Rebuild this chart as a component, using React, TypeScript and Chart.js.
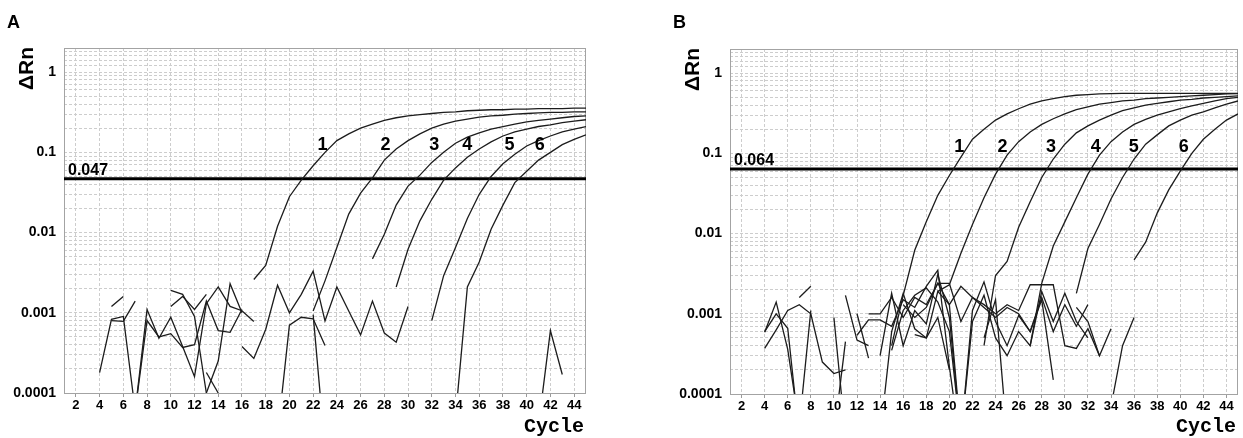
import React, { useEffect, useRef } from 'react';
import { Chart, registerables } from 'chart.js';

Chart.register(...registerables);

// [first cycle, ΔRn values for consecutive cycles]
type Run = [number, number[]];

const X_TICKS = [2, 4, 6, 8, 10, 12, 14, 16, 18, 20, 22, 24, 26, 28, 30, 32, 34, 36, 38, 40, 42, 44];
const Y_DECADES = [0.0001, 0.001, 0.01, 0.1, 1];
const Y_TICK_LABELS = ['0.0001', '0.001', '0.01', '0.1', '1'];
const Y_UPPER_GRID = [1.2, 1.4, 1.6, 1.8, 2];
const CURVE_NAMES = ['1', '2', '3', '4', '5', '6'];
const X_TITLE = 'Cycle';
const Y_TITLE = 'ΔRn';

// ---------- Panel A ----------
const A_THRESHOLD = 0.047;
const A_THRESHOLD_TEXT = '0.047';
const A_AMP_1: Run = [17, [0.0026, 0.0039, 0.012, 0.028, 0.045, 0.068, 0.1, 0.14, 0.17, 0.2, 0.225, 0.25, 0.27, 0.285, 0.295, 0.305, 0.315, 0.32, 0.33, 0.335, 0.34, 0.34, 0.345, 0.345, 0.35, 0.35, 0.35, 0.355, 0.355]];
const A_AMP_2: Run = [22, [0.00105, 0.0025, 0.0065, 0.017, 0.031, 0.048, 0.08, 0.11, 0.14, 0.17, 0.2, 0.225, 0.245, 0.26, 0.275, 0.285, 0.29, 0.3, 0.305, 0.31, 0.315, 0.315, 0.32, 0.32]];
const A_AMP_3: Run = [27, [0.0047, 0.0095, 0.022, 0.038, 0.052, 0.075, 0.1, 0.13, 0.155, 0.175, 0.195, 0.21, 0.225, 0.24, 0.25, 0.26, 0.27, 0.28, 0.285]];
const A_AMP_4: Run = [29, [0.0021, 0.0062, 0.014, 0.026, 0.045, 0.064, 0.087, 0.11, 0.135, 0.16, 0.18, 0.195, 0.21, 0.22, 0.235, 0.245, 0.255]];
const A_AMP_5: Run = [32, [0.0008, 0.0029, 0.0065, 0.015, 0.03, 0.05, 0.072, 0.095, 0.12, 0.14, 0.16, 0.18, 0.195, 0.21]];
const A_AMP_6: Run = [34, [0.00005, 0.0021, 0.0043, 0.011, 0.022, 0.042, 0.058, 0.08, 0.1, 0.125, 0.145, 0.165]];
const A_NOISE_1: Run = [4, [0.00018, 0.00083, 0.0009, 0.00006, 0.0011, 0.00048, 0.00088, 0.00038, 0.00016, 0.0013, 0.0021, 0.0012, 0.00106, 0.00078]];
const A_NOISE_2: Run = [5, [0.0012, 0.0016]];
const A_NOISE_3: Run = [5, [0.0008, 0.00078, 0.0014]];
const A_NOISE_4: Run = [7, [0.00006, 0.0008, 0.0005, 0.00055, 0.00037, 0.0004, 0.0014, 0.0006, 0.00057, 0.0011]];
const A_NOISE_5: Run = [10, [0.0019, 0.0017, 0.0009, 0.0001]];
const A_NOISE_6: Run = [10, [0.0012, 0.0016, 0.0011, 0.0017]];
const A_NOISE_7: Run = [13, [0.00018, 0.0001]];
const A_NOISE_8: Run = [13, [0.0001, 0.00025, 0.0023, 0.001]];
const A_NOISE_9: Run = [16, [0.00038, 0.00027, 0.00062, 0.0022, 0.001, 0.0017, 0.0033, 0.00079, 0.0021, 0.00105, 0.00053, 0.0014, 0.00056, 0.00043, 0.0012]];
const A_NOISE_10: Run = [19, [0.00003, 0.0007, 0.00088, 0.00084, 0.00039]];
const A_NOISE_11: Run = [22, [0.00095, 0.00002]];
const A_NOISE_12: Run = [41, [0.00004, 0.0006, 0.00017]];
const A_LABEL_CYCLES = [22.8, 28.1, 32.2, 35.0, 38.55, 41.1];
const A_LABEL_LEVEL = 0.125;

// ---------- Panel B ----------
const B_THRESHOLD = 0.064;
const B_THRESHOLD_TEXT = '0.064';
const B_AMP_1: Run = [15, [0.0004, 0.0017, 0.0062, 0.014, 0.03, 0.053, 0.09, 0.15, 0.2, 0.26, 0.31, 0.36, 0.41, 0.45, 0.48, 0.51, 0.53, 0.54, 0.55, 0.555, 0.56, 0.56, 0.56, 0.56, 0.56, 0.56, 0.56, 0.56, 0.56, 0.56, 0.56]];
const B_AMP_2: Run = [19, [0.0019, 0.0023, 0.0057, 0.013, 0.028, 0.055, 0.095, 0.14, 0.185, 0.23, 0.27, 0.31, 0.35, 0.38, 0.41, 0.43, 0.45, 0.46, 0.48, 0.49, 0.5, 0.51, 0.52, 0.53, 0.54, 0.55, 0.555]];
const B_AMP_3: Run = [23, [0.0004, 0.003, 0.0045, 0.012, 0.025, 0.05, 0.085, 0.13, 0.18, 0.22, 0.26, 0.3, 0.34, 0.37, 0.4, 0.42, 0.44, 0.46, 0.47, 0.49, 0.5, 0.51, 0.52]];
const B_AMP_4: Run = [27, [0.0004, 0.0024, 0.007, 0.014, 0.028, 0.055, 0.095, 0.14, 0.185, 0.23, 0.265, 0.3, 0.33, 0.36, 0.39, 0.42, 0.45, 0.48, 0.5]];
const B_AMP_5: Run = [31, [0.0018, 0.0065, 0.013, 0.027, 0.05, 0.085, 0.13, 0.17, 0.22, 0.26, 0.3, 0.33, 0.37, 0.41, 0.45]];
const B_AMP_6: Run = [36, [0.0047, 0.0078, 0.018, 0.035, 0.06, 0.1, 0.15, 0.2, 0.26, 0.31]];
const B_NOISE_1: Run = [4, [0.00059, 0.0014, 0.00036, 0.00004]];
const B_NOISE_2: Run = [4, [0.00037, 0.00063, 0.0011, 0.0013, 0.001, 0.00025, 0.00018, 0.0002]];
const B_NOISE_3: Run = [4, [0.0006, 0.001, 0.00066, 0.00003]];
const B_NOISE_4: Run = [7, [0.0016, 0.0022]];
const B_NOISE_5: Run = [7, [0.00004, 0.0011]];
const B_NOISE_6: Run = [10, [0.0009, 0.00003]];
const B_NOISE_7: Run = [10, [0.00003, 0.00045]];
const B_NOISE_8: Run = [11, [0.0017, 0.00047, 0.0004]];
const B_NOISE_9: Run = [12, [0.001, 0.00028]];
const B_NOISE_10: Run = [12, [0.00054, 0.00084, 0.00084, 0.0007, 0.0015, 0.0012, 0.0022, 0.0035, 0.00022, 0.00002]];
const B_NOISE_11: Run = [13, [0.001, 0.001, 0.0016, 0.0009, 0.0016, 0.0013, 0.0024, 0.0024, 0.0008, 0.0016, 0.0013, 0.001, 0.0013, 0.0011, 0.0023, 0.0023, 0.0023, 0.0004, 0.00037, 0.00065, 0.0003, 0.00065]];
const B_NOISE_12: Run = [14, [0.0003, 0.0018, 0.0004, 0.0011, 0.00075, 0.0031, 0.0009, 0.00003]];
const B_NOISE_13: Run = [14, [0.00003, 0.0006, 0.0018, 0.00065, 0.0005, 0.0019, 0.0013, 0.00003, 0.0011, 0.0025, 0.0008, 0.0004, 0.00095, 0.0006, 0.0016, 0.0006, 0.0013, 0.0007, 0.0013]];
const B_NOISE_14: Run = [15, [0.00035, 0.0011, 0.0017, 0.0021, 0.0014, 0.0006, 0.00003, 0.0008, 0.0017, 0.0005, 0.0003, 0.0006, 0.0004, 0.0019, 0.0008, 0.0018, 0.0008, 0.0005]];
const B_NOISE_15: Run = [16, [0.0013, 0.0009, 0.0012, 0.0024, 0.0013, 0.0022, 0.0016, 0.0012, 0.0009, 0.0012, 0.001, 0.0006, 0.0015, 0.00015]];
const B_NOISE_16: Run = [17, [0.00055, 0.0005, 0.0009, 0.0002]];
const B_NOISE_17: Run = [23, [0.0005, 0.0015, 0.00003]];
const B_NOISE_18: Run = [31, [0.0012, 0.0008, 0.0003]];
const B_NOISE_19: Run = [34, [0.00007, 0.0004, 0.0009]];
const B_LABEL_CYCLES = [20.85, 24.6, 28.8, 32.67, 35.98, 40.3];
const B_LABEL_LEVEL = 0.121;

const SANS = '"Liberation Sans", Arial, Helvetica, sans-serif';
const MONO = '"Liberation Mono", "Courier New", monospace';

// log grid lines: 1..9 x 10^n, plus the band above 1
const Y_GRID: number[] = [];
for (let e = -4; e <= -1; e++) {
  for (let k = 1; k <= 9; k++) Y_GRID.push(k * Math.pow(10, e));
}
Y_GRID.push(1, ...Y_UPPER_GRID);

const decorPlugin = {
  id: 'decor',
  beforeDatasetsDraw(chart: any) {
    const { ctx, chartArea: a } = chart;
    ctx.save();
    ctx.strokeStyle = '#a3a3a3';
    ctx.lineWidth = 1;
    ctx.strokeRect(a.left + 0.5, a.top + 0.5, a.right - a.left - 1, a.bottom - a.top);
    ctx.restore();
  },
  afterDatasetsDraw(chart: any, _args: any, o: any) {
    const { ctx, chartArea: a, scales } = chart;
    ctx.save();
    ctx.fillStyle = '#000';
    ctx.textBaseline = 'alphabetic';
    // panel letter
    ctx.font = `bold 18px ${SANS}`;
    ctx.textAlign = 'left';
    ctx.fillText(o.letter, a.left - 57, 28);
    // y title
    ctx.save();
    ctx.translate(a.left - 31, a.top - 1);
    ctx.rotate(-Math.PI / 2);
    ctx.font = `bold 21px ${SANS}`;
    ctx.textAlign = 'right';
    ctx.fillText(Y_TITLE, 0, 0);
    ctx.restore();
    // x title
    ctx.font = `bold 20px ${MONO}`;
    ctx.textAlign = 'right';
    ctx.fillText(X_TITLE, a.right - 2, 432);
    // threshold label
    const ty = scales.y.getPixelForValue(o.threshold);
    ctx.font = `bold 16px ${SANS}`;
    ctx.textAlign = 'left';
    ctx.fillText(o.thresholdText, a.left + 4, ty - 4);
    // curve labels
    ctx.font = `bold 18px ${SANS}`;
    ctx.textAlign = 'center';
    ctx.textBaseline = 'middle';
    o.labelCycles.forEach((c: number, i: number) => {
      ctx.fillText(CURVE_NAMES[i], scales.x.getPixelForValue(c), scales.y.getPixelForValue(o.labelLevel));
    });
    ctx.restore();
  },
};

interface PanelProps {
  left: number;
  width: number;
  plotTop: number;
  plotBottom: number;
  plotRight: number;
  letter: string;
  threshold: number;
  thresholdText: string;
  amps: Run[];
  noise: Run[];
  labelCycles: number[];
  labelLevel: number;
}

const HEIGHT = 438;

function Panel(p: PanelProps) {
  const ref = useRef<HTMLCanvasElement>(null);
  useEffect(() => {
    if (!ref.current) return;
    const toPts = (r: Run) => r[1].map((v, i) => ({ x: r[0] + i, y: v }));
    const lineDs = (r: Run) => ({
      data: toPts(r),
      borderColor: '#1c1c1c',
      borderWidth: 1.3,
      pointRadius: 0,
      tension: 0,
      fill: false,
    });
    const datasets: any[] = [
      ...p.noise.map(lineDs),
      ...p.amps.map(lineDs),
      {
        data: [{ x: 1, y: p.threshold }, { x: 45, y: p.threshold }],
        borderColor: '#000',
        borderWidth: 3,
        pointRadius: 0,
        fill: false,
      },
    ];
    const chart = new Chart(ref.current, {
      type: 'line',
      data: { datasets },
      plugins: [decorPlugin as any],
      options: {
        responsive: false,
        animation: false,
        events: [],
        layout: { padding: { top: p.plotTop, right: p.width - p.plotRight, left: 0, bottom: 0 } },
        plugins: {
          legend: { display: false },
          tooltip: { enabled: false },
          decor: {
            letter: p.letter,
            threshold: p.threshold,
            thresholdText: p.thresholdText,
            labelCycles: p.labelCycles,
            labelLevel: p.labelLevel,
          },
        } as any,
        scales: {
          x: {
            type: 'linear',
            min: 1,
            max: 45,
            afterBuildTicks: (s: any) => {
              s.ticks = X_TICKS.map((value) => ({ value }));
            },
            afterFit: (s: any) => {
              s.height = HEIGHT - p.plotBottom;
            },
            ticks: {
              autoSkip: false,
              maxRotation: 0,
              padding: 1,
              color: '#000',
              font: { family: SANS, size: 13, weight: 'bold' },
            },
            grid: { color: '#cdcdcd', lineWidth: 1, drawTicks: true, tickLength: 4, tickColor: '#9a9a9a' },
            border: { display: false, dash: [3, 2] },
          },
          y: {
            type: 'logarithmic',
            min: 0.0001,
            max: 2,
            afterBuildTicks: (s: any) => {
              s.ticks = Y_GRID.map((value) => ({ value }));
            },
            afterFit: (s: any) => {
              s.width = 64;
            },
            ticks: {
              autoSkip: false,
              padding: 8,
              color: '#000',
              font: { family: SANS, size: 14, weight: 'bold' },
              callback: (value: any) => {
                const idx = Y_DECADES.findIndex((d) => Math.abs(d - Number(value)) / d < 1e-6);
                return idx >= 0 ? Y_TICK_LABELS[idx] : '';
              },
            },
            grid: { color: '#cdcdcd', lineWidth: 1, drawTicks: false },
            border: { display: false, dash: [3, 2] },
          },
        },
      } as any,
    });
    return () => chart.destroy();
  }, []);
  return (
    <canvas
      ref={ref}
      width={p.width}
      height={HEIGHT}
      style={{ position: 'absolute', left: p.left, top: 0, width: p.width, height: HEIGHT }}
    />
  );
}

export default function App() {
  return (
    <div style={{ position: 'absolute', left: 0, top: 0, width: 1243, height: HEIGHT, background: '#fff', overflow: 'hidden' }}>
      <Panel
        left={0}
        width={600}
        plotTop={48}
        plotBottom={393}
        plotRight={586}
        letter="A"
        threshold={A_THRESHOLD}
        thresholdText={A_THRESHOLD_TEXT}
        amps={[A_AMP_1, A_AMP_2, A_AMP_3, A_AMP_4, A_AMP_5, A_AMP_6]}
        noise={[A_NOISE_1, A_NOISE_2, A_NOISE_3, A_NOISE_4, A_NOISE_5, A_NOISE_6, A_NOISE_7, A_NOISE_8, A_NOISE_9, A_NOISE_10, A_NOISE_11, A_NOISE_12]}
        labelCycles={A_LABEL_CYCLES}
        labelLevel={A_LABEL_LEVEL}
      />
      <Panel
        left={666}
        width={577}
        plotTop={49}
        plotBottom={394}
        plotRight={572}
        letter="B"
        threshold={B_THRESHOLD}
        thresholdText={B_THRESHOLD_TEXT}
        amps={[B_AMP_1, B_AMP_2, B_AMP_3, B_AMP_4, B_AMP_5, B_AMP_6]}
        noise={[B_NOISE_1, B_NOISE_2, B_NOISE_3, B_NOISE_4, B_NOISE_5, B_NOISE_6, B_NOISE_7, B_NOISE_8, B_NOISE_9, B_NOISE_10, B_NOISE_11, B_NOISE_12, B_NOISE_13, B_NOISE_14, B_NOISE_15, B_NOISE_16, B_NOISE_17, B_NOISE_18, B_NOISE_19]}
        labelCycles={B_LABEL_CYCLES}
        labelLevel={B_LABEL_LEVEL}
      />
    </div>
  );
}
